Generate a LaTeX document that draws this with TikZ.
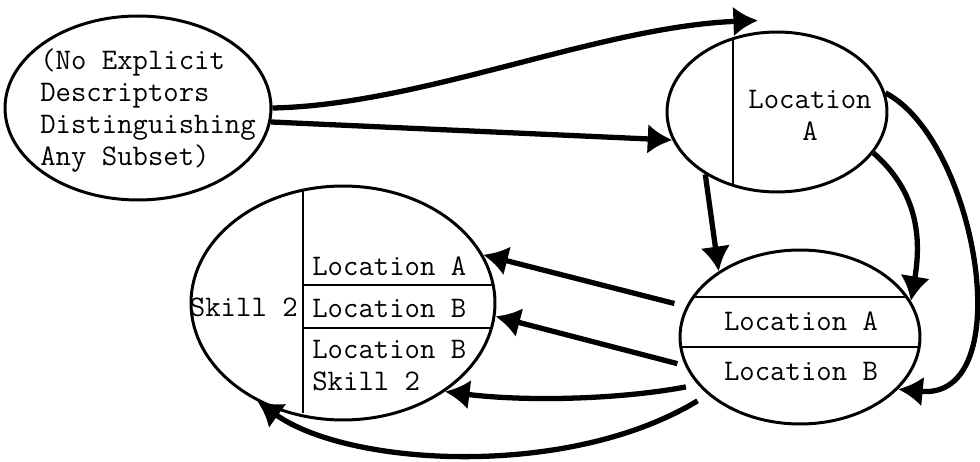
\documentclass[tikz,border=0pt]{standalone}
\usepackage{fontspec}
\usetikzlibrary{arrows.meta,shapes.geometric,calc}

\begin{document}
\begin{tikzpicture}[x=0.02cm,y=-0.02cm,>=Latex,
  every node/.style={font=\ttfamily\fontsize{17}{18.2}\selectfont,inner sep=0pt},
  blob/.style={draw,ellipse,line width=1.7pt},
  divider/.style={line width=1.1pt},
  flow/.style={-{Latex[length=14pt,width=17pt]},line width=3pt}]
\useasboundingbox (0,0) rectangle (980,462);
% the four sets
\node[blob,minimum width=5.32cm,minimum height=3.68cm] (none) at (138,108) {};
\node[blob,minimum width=4.4cm,minimum height=3.2cm] (locA) at (777,112) {};
\node[blob,minimum width=4.8cm,minimum height=3.48cm] (locAB) at (800,337) {};
\node[blob,minimum width=6.08cm,minimum height=4.68cm] (skill) at (343,303) {};
% partitions inside the sets
\draw[divider] ($(locA.center)+(-44,-73)$) -- ($(locA.center)+(-44,73)$);
\draw[divider] ($(locAB.center)+(-107,-40)$) -- ($(locAB.center)+(107,-40)$);
\draw[divider] ($(locAB.center)+(-119,10)$) -- ($(locAB.center)+(119,10)$);
\draw[divider] ($(skill.center)+(-40,-113)$) -- ($(skill.center)+(-40,110)$);
\draw[divider] ($(skill.center)+(-40,-18)$) -- ($(skill.center)+(150,-18)$);
\draw[divider] ($(skill.center)+(-40,25)$) -- ($(skill.center)+(148,25)$);
% labels
\node[anchor=west,align=left] (noneTxt) at (40,111) {(No Explicit\\Descriptors\\Distinguishing\\Any Subset)};
\node[align=center] (locATxt) at (810,115) {Location\\A};
\node (abTxtA) at (801,321) {Location A};
\node (abTxtB) at (801,371) {Location B};
\node[anchor=east] (skTxt) at (298,307) {Skill 2};
\node[anchor=west] (skTxtA) at (312,266) {Location A};
\node[anchor=west] (skTxtB) at (312,308) {Location B};
\node[anchor=west,align=left] (skTxtBS) at (312,366) {Location B\\Skill 2};
% refinements
\draw[flow] (none.east) .. controls +(149,-3) and +(-158,6) .. ([shift={(-19,-10)}]locA.north);
\draw[flow] (none.-6) -- (locA.195);
\draw[flow] (locA.221) -- (locAB.141);
\draw[flow] (locA.-23) .. controls +(40,35) and +(12,-70) .. (locAB.18);
\draw[flow] (locA.10) .. controls +(91,47) and +(123,12) .. (locAB.-28);
\draw[flow,shorten <=0.24cm] (locAB.165) -- (skill.19);
\draw[flow,shorten <=0.16cm] (locAB.194) -- (skill.-5);
\draw[flow,shorten <=0.24cm] (locAB.205) .. controls +(-80,15) and +(80,10) .. (skill.-41);
\draw[flow,shorten <=0.24cm] (locAB.212) .. controls +(-140,85) and +(90,65) .. (skill.229);
\end{tikzpicture}
\end{document}
